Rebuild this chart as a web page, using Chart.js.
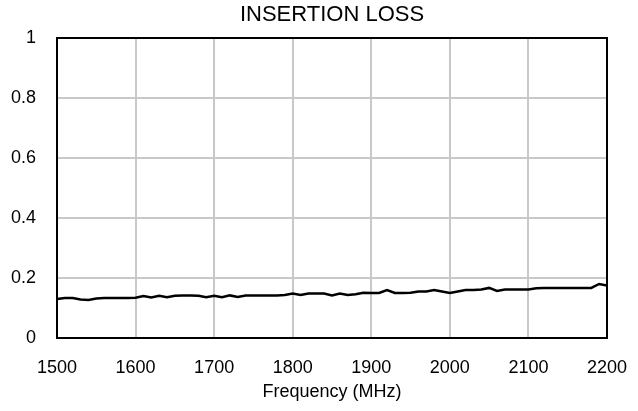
<!DOCTYPE html>
<html>
<head>
<meta charset="utf-8">
<script src="https://cdn.jsdelivr.net/npm/chart.js@4/dist/chart.umd.min.js"></script>
<style>
html,body{margin:0;padding:0;background:#fff;}
#wrap{width:638px;height:411px;}
</style>
</head>
<body>
<div id="wrap"><canvas id="c" width="638" height="411"></canvas></div>
<script>
const frequencies = [1500,1510,1520,1530,1540,1550,1560,1570,1580,1590,1600,1610,1620,1630,1640,1650,1660,1670,1680,1690,1700,1710,1720,1730,1740,1750,1760,1770,1780,1790,1800,1810,1820,1830,1840,1850,1860,1870,1880,1890,1900,1910,1920,1930,1940,1950,1960,1970,1980,1990,2000,2010,2020,2030,2040,2050,2060,2070,2080,2090,2100,2110,2120,2130,2140,2150,2160,2170,2180,2190,2200];
const insertionLoss = [0.130,0.133,0.133,0.128,0.127,0.132,0.133,0.133,0.133,0.133,0.134,0.140,0.135,0.141,0.136,0.141,0.142,0.142,0.141,0.136,0.141,0.136,0.142,0.137,0.142,0.142,0.142,0.142,0.142,0.143,0.148,0.143,0.148,0.148,0.148,0.142,0.148,0.143,0.146,0.151,0.150,0.150,0.160,0.150,0.150,0.151,0.155,0.155,0.160,0.155,0.150,0.155,0.160,0.160,0.162,0.167,0.157,0.162,0.162,0.162,0.162,0.166,0.167,0.167,0.167,0.167,0.167,0.167,0.167,0.180,0.175];
const xTicks = [1500,1600,1700,1800,1900,2000,2100,2200];
const yTicks = [0,0.2,0.4,0.6,0.8,1];
const chartTitle = 'INSERTION LOSS';
const xTitle = 'Frequency (MHz)';

const FONT = "'Liberation Sans', Arial, sans-serif";

const frame = {
  id: 'frame',
  afterDatasetsDraw(chart) {
    const a = chart.chartArea, ctx = chart.ctx;
    ctx.save();
    ctx.strokeStyle = '#000';
    ctx.lineWidth = 2;
    ctx.strokeRect(a.left, a.top, a.right - a.left, a.bottom - a.top);
    ctx.restore();
  }
};

new Chart(document.getElementById('c'), {
  type: 'line',
  data: {
    datasets: [{
      data: frequencies.map((f, i) => ({x: f, y: insertionLoss[i]})),
      xAxisID: 'x',
      yAxisID: 'y',
      borderColor: '#000',
      borderWidth: 2.5,
      pointRadius: 0,
      tension: 0,
      fill: false
    }]
  },
  options: {
    responsive: false,
    animation: false,
    layout: {padding: {left: 0, right: 31, top: 0, bottom: 0}},
    plugins: {
      legend: {display: false},
      tooltip: {enabled: false},
      title: {display: false}
    },
    scales: {
      x: {
        type: 'linear',
        position: 'bottom',
        min: 1500, max: 2200,
        afterBuildTicks: s => { s.ticks = xTicks.map(v => ({value: v})); },
        afterFit: s => { s.height = 73; s.paddingLeft = 0; s.paddingRight = 0; },
        ticks: {color: '#000', font: {family: FONT, size: 18}, padding: 19, maxRotation: 0, callback: v => String(v)},
        grid: {color: '#c8c8c8', lineWidth: 2, drawTicks: false},
        border: {display: false},
        title: {display: true, text: xTitle, color: '#000', font: {family: FONT, size: 18}, padding: {top: 0, bottom: 8}}
      },
      xTop: {
        type: 'linear',
        position: 'top',
        min: 1500, max: 2200,
        afterFit: s => { s.height = 38; s.paddingLeft = 0; s.paddingRight = 0; },
        ticks: {display: false},
        grid: {display: false, drawTicks: false},
        border: {display: false},
        title: {display: true, text: chartTitle, color: '#000', font: {family: FONT, size: 22}, padding: {top: 1.5, bottom: 0}}
      },
      y: {
        type: 'linear',
        position: 'left',
        min: 0, max: 1,
        afterBuildTicks: s => { s.ticks = yTicks.map(v => ({value: v})); },
        afterFit: s => { s.width = 57; },
        ticks: {color: '#000', font: {family: FONT, size: 18}, padding: 21, callback: v => String(v)},
        grid: {color: '#c8c8c8', lineWidth: 2, drawTicks: false},
        border: {display: false}
      }
    }
  },
  plugins: [frame]
});
</script>
</body>
</html>
